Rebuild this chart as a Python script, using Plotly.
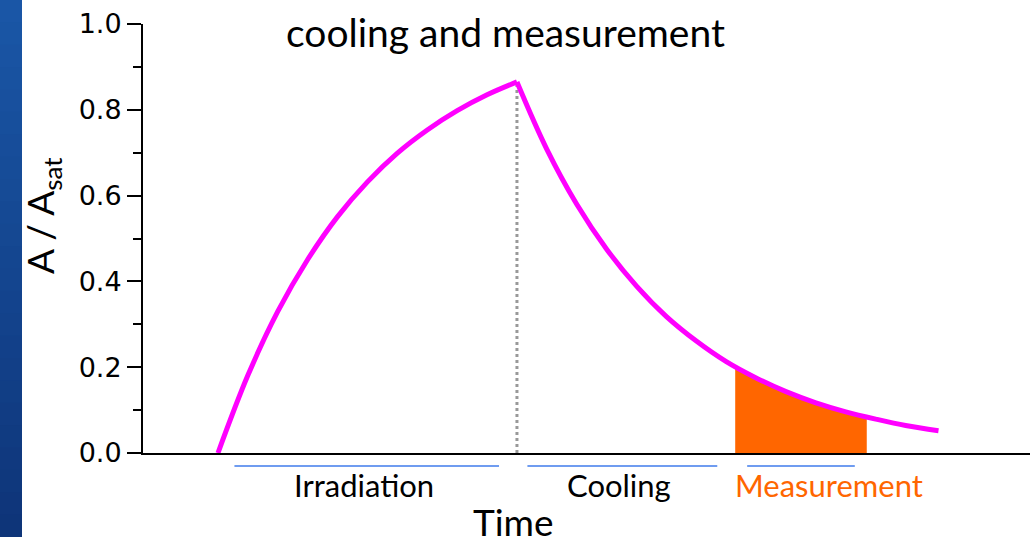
import plotly.graph_objects as go

# Irradiation build-up (time units, A/Asat)
t_irr = [0, 1, 2, 3, 4, 5, 6, 7, 8, 9, 10]
a_irr = [0.0, 0.181, 0.330, 0.451, 0.551, 0.632, 0.699, 0.753, 0.798, 0.835, 0.865]
# Cooling / decay
t_dec = [10, 11, 12, 13, 14, 15, 16, 17, 18, 19, 20, 21, 22, 23, 24.1]
a_dec = [0.865, 0.708, 0.580, 0.475, 0.389, 0.318, 0.261, 0.213, 0.175, 0.143, 0.117, 0.096, 0.079, 0.064, 0.052]
# Measurement window (shaded)
t_meas = [17.3, 18, 19, 20, 21, 21.7]
a_meas = [0.201, 0.175, 0.143, 0.117, 0.096, 0.084]

phase_labels = ["Irradiation", "Cooling", "Measurement"]
phase_start = [0.55, 10.35, 17.7]
phase_end = [9.4, 16.7, 21.3]
phase_center = [4.9, 13.4, 20.45]
phase_colors = ["#000000", "#000000", "#ff6600"]

y_ticks = [0.0, 0.2, 0.4, 0.6, 0.8, 1.0]

FONT = "Lato"
MAG = "#ff00ff"
ORANGE = "#ff6600"

fig = go.Figure()

fig.add_trace(go.Scatter(x=t_meas, y=a_meas, mode="lines", fill="tozeroy",
                         fillcolor=ORANGE, line=dict(color=ORANGE, width=0, shape="spline"),
                         hoverinfo="skip", showlegend=False))
fig.add_trace(go.Scatter(x=[t_irr[-1], t_irr[-1]], y=[0, a_irr[-1]], mode="lines",
                         line=dict(color="#999999", width=3, dash="dot"),
                         showlegend=False, hoverinfo="skip"))
fig.add_trace(go.Scatter(x=t_irr, y=a_irr, mode="lines",
                         line=dict(color=MAG, width=5, shape="spline"),
                         showlegend=False, cliponaxis=False))
fig.add_trace(go.Scatter(x=t_dec, y=a_dec, mode="lines",
                         line=dict(color=MAG, width=5, shape="spline"),
                         showlegend=False, cliponaxis=False))

shapes = []
# Left decorative gradient bar
n = 24
top = (0x1a, 0x56, 0xa6)
bot = (0x0e, 0x35, 0x79)
H = 537.0
for i in range(n):
    f = i / (n - 1)
    c = tuple(int(round(top[k] + (bot[k] - top[k]) * f)) for k in range(3))
    y_top_px = H * i / n
    y_bot_px = H * (i + 1) / n + 2
    shapes.append(dict(type="rect", xref="paper", yref="paper",
                       x0=-143 / 887, x1=-121 / 887,
                       y0=(453 - y_bot_px) / 429, y1=(453 - y_top_px) / 429,
                       fillcolor="rgb(%d,%d,%d)" % c, line=dict(width=0), layer="above"))

annotations = []
for lab, s, e, cx, col in zip(phase_labels, phase_start, phase_end, phase_center, phase_colors):
    shapes.append(dict(type="line", xref="x", yref="paper", x0=s, x1=e,
                       y0=-13 / 429, y1=-13 / 429,
                       line=dict(color="#6f9cf0", width=2)))
    annotations.append(dict(x=cx, y=-32 / 429, xref="x", yref="paper", text=lab,
                            showarrow=False, font=dict(family=FONT, size=31, color=col),
                            xanchor="center", yanchor="middle"))

annotations.append(dict(x=(513 - 143) / 887, y=-68 / 429, xref="paper", yref="paper",
                        text="Time", showarrow=False,
                        font=dict(family=FONT, size=37, color="#000"),
                        xanchor="center", yanchor="middle"))
annotations.append(dict(x=(505 - 143) / 887, y=(453 - 32) / 429, xref="paper", yref="paper",
                        text="cooling and measurement", showarrow=False,
                        font=dict(family=FONT, size=39, color="#000"),
                        xanchor="center", yanchor="middle"))
annotations.append(dict(x=(42 - 143) / 887, y=(453 - 216) / 429, xref="paper", yref="paper",
                        text="A / A<sub>sat</sub>", showarrow=False, textangle=-90,
                        font=dict(family=FONT, size=37, color="#000"),
                        xanchor="center", yanchor="middle"))

fig.update_layout(
    width=1030, height=537,
    margin=dict(l=143, r=0, t=24, b=84),
    paper_bgcolor="white", plot_bgcolor="white",
    shapes=shapes, annotations=annotations,
    xaxis=dict(range=[-2.508, 27.16], showgrid=False, zeroline=False,
               showticklabels=False, ticks="", showline=True,
               linecolor="#000", linewidth=2, fixedrange=True),
    yaxis=dict(range=[0, 1.0], showgrid=False, zeroline=False,
               tickvals=y_ticks, ticktext=["%.1f" % v for v in y_ticks],
               ticks="outside", ticklen=14, tickwidth=2, tickcolor="#000",
               showline=True, linecolor="#000", linewidth=2,
               tickfont=dict(family="DejaVu Sans", size=27, color="#000"),
               minor=dict(dtick=0.1, ticks="outside", ticklen=8, tickwidth=2, tickcolor="#000"),
               fixedrange=True),
)

fig.write_html("out.html", config={"displayModeBar": False},
               post_script="document.body.style.margin='0';document.body.style.overflow='hidden';")
